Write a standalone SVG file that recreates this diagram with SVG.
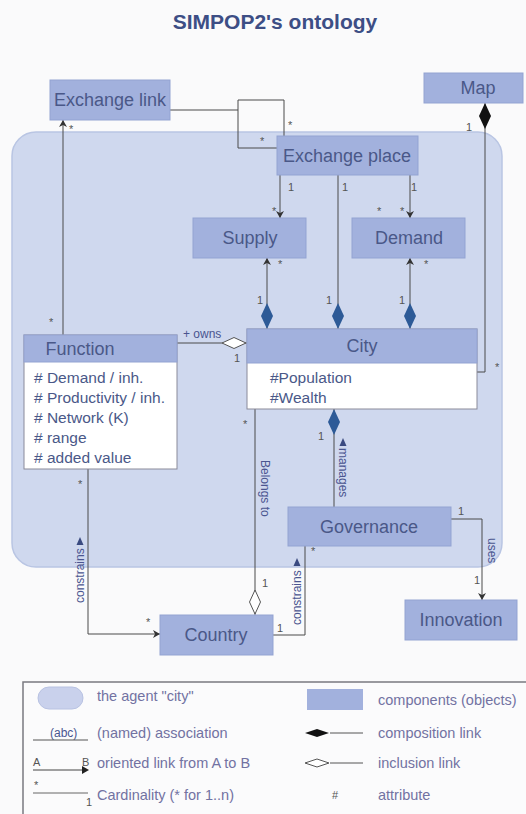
<svg xmlns="http://www.w3.org/2000/svg" width="526" height="814" viewBox="0 0 526 814">
<defs>
<style>
.bg{fill:#fafafb}
.agent{fill:#cfd8ee;stroke:#b9c5e3;stroke-width:1.5}
.box{fill:#a2b1dd;stroke:#93a3d2;stroke-width:1}
.body{fill:#ffffff;stroke:#8a8a99;stroke-width:1}
.nt{font-family:"Liberation Sans",Arial,sans-serif;font-size:18px;fill:#4a5888;text-anchor:middle}
.at{font-family:"Liberation Sans",Arial,sans-serif;font-size:15.5px;fill:#4a5888}
.ln{fill:none;stroke:#4a4a4a;stroke-width:1}
.lb{font-family:"Liberation Sans",Arial,sans-serif;font-size:11px;fill:#555}
.rl{font-family:"Liberation Sans",Arial,sans-serif;font-size:12px;fill:#4a5590}
.lg{font-family:"Liberation Sans",Arial,sans-serif;font-size:14.5px;fill:#7272a2}
.title{font-family:"Liberation Sans",Arial,sans-serif;font-size:21px;font-weight:bold;fill:#3d4e85;text-anchor:middle}
</style>
<marker id="arr" markerUnits="userSpaceOnUse" markerWidth="10" markerHeight="10" refX="7" refY="4" orient="auto" viewBox="0 0 10 8">
<path d="M0,0 L7,4 L0,8 L2,4 z" fill="#333"/>
</marker>
<marker id="dblue" markerUnits="userSpaceOnUse" markerWidth="30" markerHeight="16" refX="27" refY="7" orient="auto-start-reverse" viewBox="0 0 30 14">
<path d="M1,7 L14,1 L27,7 L14,13 z" fill="#2d5a97"/>
</marker>
<marker id="dblack" markerUnits="userSpaceOnUse" markerWidth="30" markerHeight="16" refX="27" refY="7" orient="auto-start-reverse" viewBox="0 0 30 14">
<path d="M1,7 L14,1 L27,7 L14,13 z" fill="#111"/>
</marker>
<marker id="dhollow" markerUnits="userSpaceOnUse" markerWidth="30" markerHeight="16" refX="27" refY="7" orient="auto-start-reverse" viewBox="0 0 30 14">
<path d="M2,7 L14,1.5 L26,7 L14,12.5 z" fill="#fff" stroke="#555" stroke-width="1"/>
</marker>
</defs>
<rect class="bg" x="0" y="0" width="526" height="814"/>
<text class="title" x="275" y="29">SIMPOP2's ontology</text>

<g id="agent-city">
<rect class="agent" x="12" y="132" width="490" height="435" rx="24" ry="24"/>
</g>

<g id="connectors">
<path class="ln" d="M63,335 V120" marker-end="url(#arr)"/>
<path class="ln" d="M170,110 H238 V100 H284 V136"/>
<path class="ln" d="M238,110 V148 H277"/>
<path class="ln" d="M280,175 V218" marker-end="url(#arr)"/>
<path class="ln" d="M338,175 V329" marker-end="url(#dblue)"/>
<path class="ln" d="M410,175 V218" marker-end="url(#arr)"/>
<path class="ln" d="M267,329 V258" marker-start="url(#dblue)" marker-end="url(#arr)"/>
<path class="ln" d="M410,329 V258" marker-start="url(#dblue)" marker-end="url(#arr)"/>
<path class="ln" d="M485,103 V372 H477" marker-start="url(#dblack)"/>
<path class="ln" d="M177,343 H247" marker-end="url(#dhollow)"/>
<path class="ln" d="M255,409 V615" marker-end="url(#dhollow)"/>
<path class="ln" d="M334,507 V409" marker-end="url(#dblue)"/>
<path class="ln" d="M88,469 V634 H160" marker-end="url(#arr)"/>
<path class="ln" d="M273,635 H305 V546"/>
<path class="ln" d="M451,519 H482 V600" marker-end="url(#arr)"/>

<text class="lb" x="69" y="133">*</text>
<text class="lb" x="288" y="129">*</text>
<text class="lb" x="260" y="145">*</text>
<text class="lb" x="288" y="191">1</text>
<text class="lb" x="342" y="191">1</text>
<text class="lb" x="411" y="191">1</text>
<text class="lb" x="272" y="215">*</text>
<text class="lb" x="377" y="215">*</text>
<text class="lb" x="400" y="215">*</text>
<text class="lb" x="278" y="268">*</text>
<text class="lb" x="424" y="268">*</text>
<text class="lb" x="257" y="304">1</text>
<text class="lb" x="326" y="304">1</text>
<text class="lb" x="399" y="304">1</text>
<text class="lb" x="49" y="326">*</text>
<text class="rl" x="183" y="338" font-size="11">+ owns</text>
<text class="lb" x="234" y="362">1</text>
<text class="lb" x="466" y="131">1</text>
<text class="lb" x="495" y="371">*</text>
<text class="lb" x="243" y="428">*</text>
<text class="lb" x="318" y="440">1</text>
<text class="lb" x="78" y="488">*</text>
<text class="lb" x="146" y="626">*</text>
<text class="lb" x="262" y="587">1</text>
<text class="lb" x="277" y="632">1</text>
<text class="lb" x="311" y="555">*</text>
<text class="lb" x="458" y="515">1</text>
<text class="lb" x="474" y="584">1</text>

<text class="rl" transform="translate(261,460) rotate(90)">Belongs to</text>
<polygon points="343,438 339.5,446 346.5,446" fill="#3a4a80"/>
<text class="rl" transform="translate(339,448) rotate(90)">manages</text>
<polygon points="80,537 76.5,545 83.5,545" fill="#3a4a80"/>
<text class="rl" transform="translate(84,603) rotate(-90)">constrains</text>
<polygon points="297,558 293.5,566 300.5,566" fill="#3a4a80"/>
<text class="rl" transform="translate(301,625) rotate(-90)">constrains</text>
<text class="rl" transform="translate(488,538) rotate(90)">uses</text>
</g>

<g id="exchange-link">
<rect class="box" x="50" y="80" width="120" height="40"/>
<text class="nt" x="110" y="106">Exchange link</text>
</g>
<g id="map">
<rect class="box" x="424" y="73" width="99" height="30"/>
<text class="nt" x="478" y="94">Map</text>
</g>
<g id="exchange-place">
<rect class="box" x="277" y="136" width="141" height="39"/>
<text class="nt" x="347" y="162">Exchange place</text>
</g>
<g id="supply">
<rect class="box" x="193" y="218" width="113" height="40"/>
<text class="nt" x="250" y="244">Supply</text>
</g>
<g id="demand">
<rect class="box" x="352" y="218" width="113" height="40"/>
<text class="nt" x="409" y="244">Demand</text>
</g>
<g id="function">
<rect class="body" x="24" y="335" width="153" height="134"/>
<rect class="box" x="24" y="335" width="153" height="27"/>
<text class="nt" x="80" y="355">Function</text>
<text class="at" x="34" y="383">#&#160;Demand / inh.</text>
<text class="at" x="34" y="403">#&#160;Productivity / inh.</text>
<text class="at" x="34" y="423">#&#160;Network (K)</text>
<text class="at" x="34" y="443">#&#160;range</text>
<text class="at" x="34" y="463">#&#160;added value</text>
</g>
<g id="city">
<rect class="body" x="247" y="329" width="230" height="80"/>
<rect class="box" x="247" y="329" width="230" height="34"/>
<text class="nt" x="362" y="352">City</text>
<text class="at" x="270" y="383" font-size="16">#Population</text>
<text class="at" x="270" y="403" font-size="16">#Wealth</text>
</g>
<g id="governance">
<rect class="box" x="288" y="507" width="163" height="39"/>
<text class="nt" x="369" y="533">Governance</text>
</g>
<g id="innovation">
<rect class="box" x="405" y="600" width="112" height="40"/>
<text class="nt" x="461" y="626">Innovation</text>
</g>
<g id="country">
<rect class="box" x="160" y="615" width="113" height="40"/>
<text class="nt" x="216" y="641">Country</text>
</g>

<g id="legend">
<rect x="23" y="682" width="520" height="150" fill="#fbfbfc" stroke="#7a7a80" stroke-width="1.5"/>
<rect x="38" y="687" width="45" height="22" rx="11" ry="11" fill="#c9d1ec" stroke="#b8c2e2"/>
<text class="lg" x="97" y="701">the agent "city"</text>
<rect x="307" y="689" width="56" height="21" fill="#a2b1dd"/>
<text class="lg" x="378" y="705">components (objects)</text>
<text class="rl" x="50" y="737" font-size="11" fill="#555">(abc)</text>
<line x1="33" y1="740" x2="88" y2="740" stroke="#555"/>
<text class="lg" x="97" y="738">(named) association</text>
<line x1="330" y1="733" x2="363" y2="733" stroke="#555"/>
<polygon points="305,733 317,729 329,733 317,737" fill="#111"/>
<text class="lg" x="378" y="738">composition link</text>
<text class="lb" x="33" y="766" font-size="12">A</text>
<text class="lb" x="82" y="766" font-size="12">B</text>
<line x1="33" y1="770" x2="86" y2="770" stroke="#444"/>
<path d="M82,766 L89,770 L82,774 z" fill="#222"/>
<text class="lg" x="97" y="768">oriented link from A to B</text>
<line x1="330" y1="763" x2="363" y2="763" stroke="#555"/>
<polygon points="305,763 317,759 329,763 317,767" fill="#fff" stroke="#555"/>
<text class="lg" x="378" y="768">inclusion link</text>
<text class="lb" x="34" y="789">*</text>
<line x1="33" y1="793" x2="88" y2="793" stroke="#666"/>
<text class="lb" x="86" y="806">1</text>
<text class="lg" x="97" y="800">Cardinality (* for 1..n)</text>
<text class="lb" x="332" y="799" font-size="13" fill="#6a6a90">#</text>
<text class="lg" x="378" y="800">attribute</text>
</g>
</svg>
